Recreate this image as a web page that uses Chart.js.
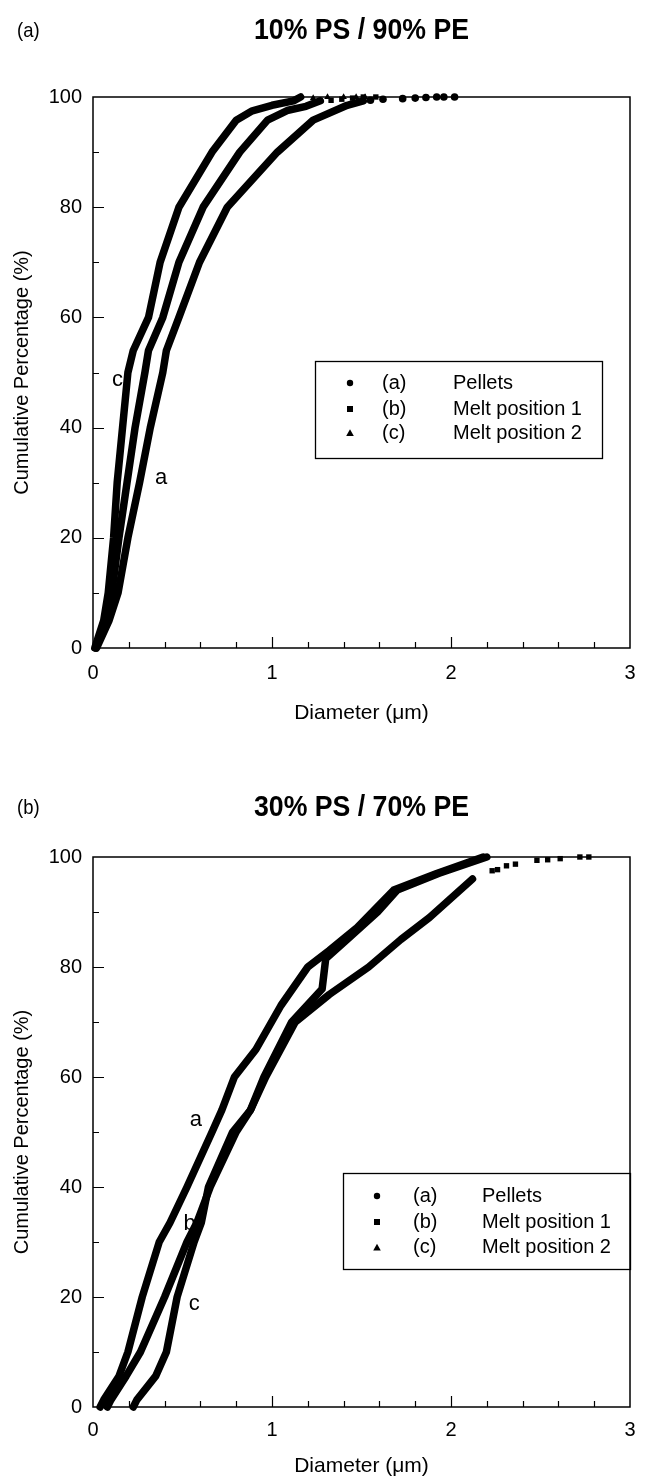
<!DOCTYPE html>
<html><head><meta charset="utf-8">
<script src="https://cdn.jsdelivr.net/npm/chart.js@4.4.1/dist/chart.umd.min.js"></script>
<style>
html,body{margin:0;padding:0;background:#fff;}
#wrap{position:relative;width:650px;height:1479px;background:#fff;}
canvas{position:absolute;left:0;}
</style></head><body>
<div id="wrap">
<canvas id="c1" width="650" height="740" style="top:0"></canvas>
<canvas id="c2" width="650" height="739" style="top:740px"></canvas>
</div>
<script>
const FONT = '"Liberation Sans", Arial, Helvetica, sans-serif';

// ---- shared text ----
const seriesCodes = ['(a)', '(b)', '(c)'];
const seriesNames = ['Pellets', 'Melt position 1', 'Melt position 2'];
const seriesMarkers = ['circle', 'rect', 'triangle'];
const xTitle = 'Diameter (\u03bcm)';
const yTitle = 'Cumulative Percentage (%)';
const xTickValues = [0, 1, 2, 3];
const yTickValues = [0, 20, 40, 60, 80, 100];

// ---- panel (a): 10% PS / 90% PE ----
const panelA_title = '10% PS / 90% PE';
const panelA_tag = '(a)';
const panelA_pellets_d = [0.02, 0.09, 0.14, 0.195, 0.26, 0.32, 0.39, 0.41, 0.48, 0.595, 0.75, 1.03, 1.23, 1.42, 1.51];
const panelA_pellets_p = [0, 5, 10, 20, 30, 40, 50, 54, 60, 70, 80, 90, 95.8, 98.5, 99.3];
const panelA_pelletsTail_d = [1.55, 1.62, 1.73, 1.80, 1.86, 1.92, 1.96, 2.02];
const panelA_pelletsTail_p = [99.4, 99.6, 99.7, 99.8, 99.9, 100, 100, 100];
const panelA_melt1_d = [0.015, 0.07, 0.105, 0.145, 0.19, 0.235, 0.29, 0.31, 0.39, 0.48, 0.615, 0.82, 0.975, 1.09, 1.19, 1.27];
const panelA_melt1_p = [0, 5, 10, 20, 30, 40, 50, 54, 60, 70, 80, 90, 95.8, 97.6, 98.3, 99.3];
const panelA_melt1Tail_d = [1.33, 1.39, 1.45, 1.51, 1.58];
const panelA_melt1Tail_p = [99.4, 99.6, 99.8, 100, 100];
const panelA_melt2_d = [0.01, 0.06, 0.085, 0.115, 0.135, 0.165, 0.195, 0.225, 0.31, 0.375, 0.48, 0.665, 0.80, 0.89, 1.0, 1.12, 1.16];
const panelA_melt2_p = [0, 5, 10, 20, 30, 40, 50, 54, 60, 70, 80, 90, 95.8, 97.5, 98.5, 99.3, 100];
const panelA_melt2Tail_d = [1.23, 1.31, 1.40, 1.47, 1.52];
const panelA_melt2Tail_p = [99.8, 100, 100, 100, 100];
const panelA_curveTags = ['c', 'a'];
const panelA_curveTag_d = [0.137, 0.38];
const panelA_curveTag_p = [48.7, 30.8];

// ---- panel (b): 30% PS / 70% PE ----
const panelB_title = '30% PS / 70% PE';
const panelB_tag = '(b)';
const panelB_pellets_d = [0.04, 0.06, 0.145, 0.195, 0.275, 0.37, 0.43, 0.525, 0.665, 0.72, 0.79, 0.91, 1.05, 1.20, 1.32, 1.47, 1.68, 1.92, 2.18];
const panelB_pellets_p = [0, 1.3, 5.6, 10, 20, 30, 33.5, 40, 50, 54, 60, 65, 73, 80, 83, 87, 94, 97, 100];
const panelB_melt1_d = [0.08, 0.10, 0.185, 0.265, 0.40, 0.525, 0.58, 0.655, 0.80, 0.88, 0.965, 1.13, 1.32, 1.54, 1.72, 1.88, 2.12];
const panelB_melt1_p = [0, 1.3, 5.6, 10, 20, 30, 33.5, 40, 50, 54, 60, 70, 75, 80, 85, 89, 96];
const panelB_melt1Tail_d = [2.23, 2.26, 2.31, 2.36, 2.48, 2.54, 2.61, 2.72, 2.77];
const panelB_melt1Tail_p = [97.5, 97.7, 98.4, 98.7, 99.4, 99.5, 99.7, 100, 100];
const panelB_melt2_d = [0.225, 0.245, 0.35, 0.41, 0.47, 0.565, 0.605, 0.645, 0.78, 0.88, 0.955, 1.11, 1.28, 1.30, 1.42, 1.59, 1.70, 1.93, 2.2];
const panelB_melt2_p = [0, 1.3, 5.6, 10, 20, 30, 33.5, 40, 50, 54, 60, 70, 76, 81.5, 85, 90, 94, 97, 100];
const panelB_curveTags = ['a', 'b', 'c'];
const panelB_curveTag_d = [0.575, 0.54, 0.565];
const panelB_curveTag_p = [52.2, 33.3, 18.8];

// ---- helpers ----
function pts(xs, ys) { return xs.map((x, i) => ({ x: x, y: ys[i] })); }
function bandDS(label, xs, ys, marker) {
  return { label, data: pts(xs, ys), showLine: true, borderColor: '#000', backgroundColor: '#000',
    borderWidth: 7.5, borderCapStyle: 'round', borderJoinStyle: 'round', tension: 0,
    pointRadius: 0, pointStyle: marker, clip: 8 };
}
function tailDS(label, xs, ys, marker) {
  return { label, data: pts(xs, ys), showLine: false, borderColor: '#000', backgroundColor: '#000',
    borderWidth: 0, pointRadius: 3.8, pointStyle: marker, clip: 8 };
}
function noScalePadding(s) { s.paddingLeft = 0; s.paddingRight = 0; s.paddingTop = 0; s.paddingBottom = 0; }

const framePlugin = {
  id: 'frameTicks',
  afterDatasetsDraw(chart) {
    const { ctx, chartArea: a, scales: { x, y } } = chart;
    ctx.save();
    ctx.strokeStyle = '#000';
    ctx.lineWidth = 1.5;
    ctx.strokeRect(a.left, a.top, a.right - a.left, a.bottom - a.top);
    ctx.lineWidth = 1.2;
    ctx.beginPath();
    for (let i = 1; i < 15; i++) {
      const v = i * 0.2;
      const px = Math.round(x.getPixelForValue(v)) + 0.5;
      const len = (i % 5 === 0) ? 11 : 6;
      ctx.moveTo(px, a.bottom); ctx.lineTo(px, a.bottom - len);
    }
    for (let i = 1; i < 10; i++) {
      const v = i * 10;
      const py = Math.round(y.getPixelForValue(v)) + 0.5;
      const len = (i % 2 === 0) ? 11 : 6;
      ctx.moveTo(a.left, py); ctx.lineTo(a.left + len, py);
    }
    ctx.stroke();
    ctx.restore();
  }
};

function narrowText(ctx, text, x, y, font, sx, align) {
  ctx.save();
  ctx.font = font;
  ctx.textAlign = align;
  ctx.translate(x, y);
  ctx.scale(sx, 1);
  ctx.fillText(text, 0, 0);
  ctx.restore();
}

const decorPlugin = {
  id: 'decor',
  afterDraw(chart, args, o) {
    const { ctx, scales: { x, y } } = chart;
    ctx.save();
    ctx.fillStyle = '#000';
    ctx.textBaseline = 'middle';
    narrowText(ctx, o.tag, o.tagX, o.titleY, '21px ' + FONT, 0.88, 'left');
    narrowText(ctx, o.title, (chart.chartArea.left + chart.chartArea.right) / 2, o.titleY, 'bold 29px ' + FONT, 0.92, 'center');
    ctx.font = '22px ' + FONT;
    ctx.textAlign = 'center';
    o.curveTags.forEach((t, i) => {
      ctx.fillText(t, x.getPixelForValue(o.curveTagD[i]), y.getPixelForValue(o.curveTagP[i]));
    });
    const L = o.legend;
    ctx.strokeStyle = '#000';
    ctx.lineWidth = 1.3;
    ctx.strokeRect(L.left + 0.5, L.top + 0.5, L.width, L.height);
    ctx.font = '20px ' + FONT;
    ctx.textAlign = 'left';
    seriesCodes.forEach((code, i) => {
      const ry = L.top + L.rowY[i];
      const mx = L.left + L.markerX;
      ctx.beginPath();
      if (seriesMarkers[i] === 'circle') { ctx.arc(mx, ry, 3.2, 0, Math.PI * 2); }
      else if (seriesMarkers[i] === 'rect') { ctx.rect(mx - 3, ry - 3, 6, 6); }
      else { ctx.moveTo(mx, ry - 3.8); ctx.lineTo(mx + 3.8, ry + 3); ctx.lineTo(mx - 3.8, ry + 3); ctx.closePath(); }
      ctx.fill();
      ctx.fillText(code, L.left + L.codeX, ry);
      ctx.fillText(seriesNames[i], L.left + L.nameX, ry);
    });
    ctx.restore();
  }
};

function makeChart(id, datasets, geo, decor) {
  return new Chart(document.getElementById(id), {
    type: 'scatter',
    data: { datasets },
    options: {
      responsive: false, animation: false, devicePixelRatio: 1,
      layout: { padding: { left: 0, right: 20, top: geo.top, bottom: 0 } },
      plugins: { legend: { display: false }, tooltip: { enabled: false }, title: { display: false }, decor },
      scales: {
        x: {
          type: 'linear', min: 0, max: 3,
          afterFit(s) { s.height = geo.xAxisH; noScalePadding(s); },
          afterBuildTicks(s) { s.ticks = xTickValues.map(v => ({ value: v })); },
          ticks: { color: '#000', font: { family: FONT, size: 20 }, padding: geo.xTickPad, maxRotation: 0, callback: v => String(v) },
          grid: { display: false, drawTicks: false }, border: { display: false },
          title: { display: true, text: xTitle, color: '#000', font: { family: FONT, size: 21 }, padding: { top: 0, bottom: geo.xTitlePad } }
        },
        y: {
          type: 'linear', min: 0, max: 100,
          afterFit(s) { s.width = 93; noScalePadding(s); },
          afterBuildTicks(s) { s.ticks = yTickValues.map(v => ({ value: v })); },
          ticks: { color: '#000', font: { family: FONT, size: 20 }, padding: 11, callback: v => String(v) },
          grid: { display: false, drawTicks: false }, border: { display: false },
          title: { display: true, text: yTitle, color: '#000', font: { family: FONT, size: 20 }, padding: { top: 10, bottom: 0 } }
        }
      }
    },
    plugins: [framePlugin, decorPlugin]
  });
}

makeChart('c1', [
  bandDS(seriesNames[0], panelA_pellets_d, panelA_pellets_p, 'circle'),
  tailDS(seriesNames[0], panelA_pelletsTail_d, panelA_pelletsTail_p, 'circle'),
  bandDS(seriesNames[1], panelA_melt1_d, panelA_melt1_p, 'rect'),
  tailDS(seriesNames[1], panelA_melt1Tail_d, panelA_melt1Tail_p, 'rect'),
  bandDS(seriesNames[2], panelA_melt2_d, panelA_melt2_p, 'triangle'),
  tailDS(seriesNames[2], panelA_melt2Tail_d, panelA_melt2Tail_p, 'triangle')
], { top: 97, xAxisH: 92, xTickPad: 13, xTitlePad: 14 }, {
  tag: panelA_tag, title: panelA_title, tagX: 17, titleY: 31,
  curveTags: panelA_curveTags, curveTagD: panelA_curveTag_d, curveTagP: panelA_curveTag_p,
  legend: { left: 315, top: 361, width: 287, height: 97, markerX: 35, codeX: 67, nameX: 138, rowY: [22, 48, 72] }
});

makeChart('c2', [
  bandDS(seriesNames[0], panelB_pellets_d, panelB_pellets_p, 'circle'),
  bandDS(seriesNames[1], panelB_melt1_d, panelB_melt1_p, 'rect'),
  tailDS(seriesNames[1], panelB_melt1Tail_d, panelB_melt1Tail_p, 'rect'),
  bandDS(seriesNames[2], panelB_melt2_d, panelB_melt2_p, 'triangle')
], { top: 117, xAxisH: 72, xTickPad: 11, xTitlePad: 0 }, {
  tag: panelB_tag, title: panelB_title, tagX: 17, titleY: 68,
  curveTags: panelB_curveTags, curveTagD: panelB_curveTag_d, curveTagP: panelB_curveTag_p,
  legend: { left: 343, top: 433, width: 287, height: 96, markerX: 34, codeX: 70, nameX: 139, rowY: [23, 49, 74.6] }
});
</script>
</body></html>
